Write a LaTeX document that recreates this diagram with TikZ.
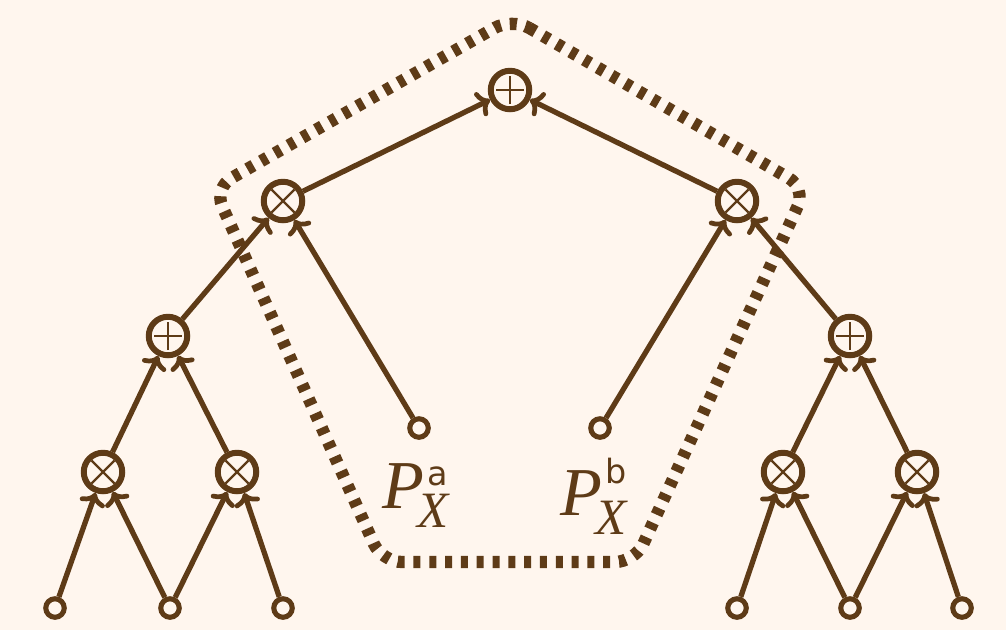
\documentclass[tikz,border=0pt]{standalone}
\usepackage{fontspec}
\setmainfont{Liberation Serif}
\newfontfamily\supfont{DejaVu Sans}
\usetikzlibrary{arrows.meta}
\definecolor{brn}{HTML}{5E3B17}
\definecolor{bgc}{HTML}{FFF6EE}
\newcommand{\plab}[2]{{\fontsize{39}{40}\selectfont\itshape P}\rlap{\kern2pt\raisebox{#2}{\fontsize{19}{20}\supfont #1}}\kern-4pt\raisebox{-11pt}{\fontsize{29}{30}\selectfont\itshape X}}
\tikzset{
  px/.style={x=0.02cm,y=-0.02cm},
  opnode/.style={circle,draw=brn,line width=3.4pt,minimum size=0.77cm,inner sep=0pt,fill=bgc},
  plusop/.style={opnode,path picture={
    \draw[brn,line width=1.3pt] ([xshift=-0.28cm]path picture bounding box.center) -- ([xshift=0.28cm]path picture bounding box.center);
    \draw[brn,line width=1.3pt] ([yshift=-0.28cm]path picture bounding box.center) -- ([yshift=0.28cm]path picture bounding box.center);}},
  timesop/.style={opnode,path picture={
    \draw[brn,line width=1.3pt] ([shift={(-0.23cm,-0.23cm)}]path picture bounding box.center) -- ([shift={(0.23cm,0.23cm)}]path picture bounding box.center);
    \draw[brn,line width=1.3pt] ([shift={(-0.23cm,0.23cm)}]path picture bounding box.center) -- ([shift={(0.23cm,-0.23cm)}]path picture bounding box.center);}},
  leaf/.style={circle,draw=brn,line width=2.9pt,minimum size=0.37cm,inner sep=0pt,fill=bgc},
  edge/.style={draw=brn,line width=3pt,-{Computer Modern Rightarrow[length=7pt,width=15pt,line width=2.7pt]}},
  frame/.style={draw=brn,line width=7pt,dash pattern=on 4pt off 5pt,rounded corners=0.4cm},
  lab/.style={text=brn,anchor=base west,inner sep=0pt}
}
\begin{document}
\begin{tikzpicture}[px]
\fill[bgc] (0,0) rectangle (1006,630);
\useasboundingbox (0,0) rectangle (1006,630);
% frame
\draw[frame] (512,18) -- (806,188) -- (635,562) -- (382,562) -- (214,188) -- cycle;
% nodes
\node[plusop] (top) at (510,90) {};
\node[timesop] (lt) at (283,201) {};
\node[timesop] (rt) at (737,201) {};
\node[plusop] (lp) at (168,336) {};
\node[plusop] (rp) at (850,336) {};
\node[timesop] (lt1) at (103,472) {};
\node[timesop] (lt2) at (237,472) {};
\node[timesop] (rt1) at (783,472) {};
\node[timesop] (rt2) at (917,472) {};
\node[leaf] (l1) at (55,608) {};
\node[leaf] (l2) at (170,608) {};
\node[leaf] (l3) at (283,608) {};
\node[leaf] (r1) at (737,608) {};
\node[leaf] (r2) at (850,608) {};
\node[leaf] (r3) at (962,608) {};
\node[leaf] (pa) at (419,428) {};
\node[leaf] (pb) at (600,428) {};
\node[lab] (la) at (382,508) {\plab{a}{13pt}};
\node[lab] (lb) at (560,515) {\plab{b}{18pt}};
% edges
\draw[edge] (l1) -- (lt1);
\draw[edge] (l2) -- (lt1);
\draw[edge] (l2) -- (lt2);
\draw[edge] (l3) -- (lt2);
\draw[edge] (lt1) -- (lp);
\draw[edge] (lt2) -- (lp);
\draw[edge] (lp) -- (lt);
\draw[edge] (pa) -- (lt);
\draw[edge] (lt) -- (top);
\draw[edge] (r1) -- (rt1);
\draw[edge] (r2) -- (rt1);
\draw[edge] (r2) -- (rt2);
\draw[edge] (r3) -- (rt2);
\draw[edge] (rt1) -- (rp);
\draw[edge] (rt2) -- (rp);
\draw[edge] (rp) -- (rt);
\draw[edge] (pb) -- (rt);
\draw[edge] (rt) -- (top);
\end{tikzpicture}
\end{document}
